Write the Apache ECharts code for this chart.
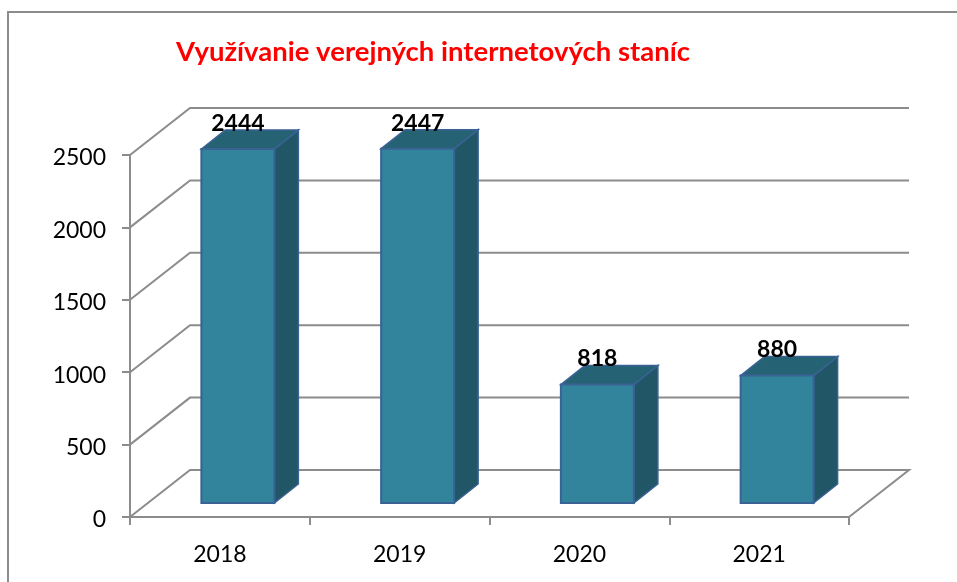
<!DOCTYPE html>
<html>
<head>
<meta charset="utf-8">
<title>Využívanie verejných internetových staníc</title>
<script src="https://cdn.jsdelivr.net/npm/echarts@6/dist/echarts.min.js"></script>
<style>
  html, body { margin: 0; padding: 0; background: #fff; }
  #chart { width: 957px; height: 582px; }
</style>
</head>
<body>
<div id="chart"></div>
<script>
const years = ['2018', '2019', '2020', '2021'];
const visits = [2444, 2447, 818, 880];
const yTicks = [0, 500, 1000, 1500, 2000, 2500];

// oblique offsets of the fake 3D box
const WALL_DX = 60, WALL_DY = -47;
const BAR_DX = 24, BAR_DY = -19;
const BAR_SHIFT_X = 18, BAR_SHIFT_Y = -14;
const BAR_WIDTH = 73;

const chart = echarts.init(document.getElementById('chart'));

// floor edge and back wall lines
const renderWall = (params, api) => {
  const rect = params.coordSys;
  const p = api.coord([0, api.value(1)]);
  const left = rect.x, right = rect.x + rect.width, y = p[1];
  const style = { stroke: '#8c8c8c', lineWidth: 2, fill: null };
  const points = [[left, y], [left + WALL_DX, y + WALL_DY], [right + WALL_DX, y + WALL_DY]];
  if (api.value(1) === 0) points.push([right, y]);
  return { type: 'polyline', shape: { points }, style };
};

const renderBar = (params, api) => {
  const base = api.coord([api.value(0), 0]);
  const top = api.coord([api.value(0), api.value(1)]);
  const x0 = base[0] + BAR_SHIFT_X - BAR_WIDTH / 2;
  const x1 = x0 + BAR_WIDTH;
  const yb = base[1] + BAR_SHIFT_Y;
  const yt = top[1] + BAR_SHIFT_Y;
  const edge = '#3a6294';
  return {
    type: 'group',
    children: [
      {
        type: 'polygon',
        shape: { points: [[x1, yt], [x1 + BAR_DX, yt + BAR_DY], [x1 + BAR_DX, yb + BAR_DY], [x1, yb]] },
        style: { fill: '#205665', stroke: edge, lineWidth: 1.5 }
      },
      {
        type: 'polygon',
        shape: { points: [[x0, yt], [x0 + BAR_DX, yt + BAR_DY], [x1 + BAR_DX, yt + BAR_DY], [x1, yt]] },
        style: { fill: '#256273', stroke: edge, lineWidth: 1.5 }
      },
      {
        type: 'rect',
        shape: { x: x0, y: yt, width: BAR_WIDTH, height: yb - yt },
        style: { fill: '#31849b', stroke: edge, lineWidth: 2 }
      },
      {
        type: 'text',
        z2: 10,
        style: {
          text: String(api.value(1)),
          x: (x0 + x1) / 2,
          y: yt + BAR_DY + 5,
          align: 'center',
          verticalAlign: 'bottom',
          fontFamily: 'Lato',
          fontWeight: 'bold',
          fontSize: 23,
          fill: '#000'
        }
      }
    ]
  };
};

chart.setOption({
  animation: false,
  backgroundColor: '#fff',
  title: {
    text: 'Využívanie verejných internetových staníc',
    left: 171,
    top: 33,
    textStyle: { color: '#ff0000', fontFamily: 'Lato', fontWeight: 'bold', fontSize: 27.5 }
  },
  graphic: [{
    type: 'polyline',
    shape: { points: [[8, 582], [8, 12], [957, 12]] },
    style: { stroke: '#8c8c8c', lineWidth: 2, fill: null }
  }],
  grid: { left: 130, right: 108, top: 155, bottom: 65 },
  xAxis: {
    type: 'category',
    data: years,
    axisLine: { lineStyle: { color: '#8c8c8c', width: 2 } },
    axisTick: { show: true, length: 8, lineStyle: { color: '#8c8c8c', width: 2 } },
    axisLabel: { color: '#000', fontFamily: 'Lato', fontSize: 23, margin: 26 }
  },
  yAxis: {
    type: 'value',
    min: 0,
    max: 2500,
    interval: 500,
    splitLine: { show: false },
    axisLine: { show: true, lineStyle: { color: '#8c8c8c', width: 2 } },
    axisTick: { show: true, length: 8, lineStyle: { color: '#8c8c8c', width: 2 } },
    axisLabel: {
      color: '#000',
      fontFamily: 'Lato',
      fontSize: 23,
      margin: 24,
      verticalAlign: 'top',
      lineHeight: 6,
      formatter: v => String(v)
    }
  },
  series: [
    {
      type: 'custom',
      name: 'wall',
      clip: false,
      z: 1,
      renderItem: renderWall,
      data: yTicks.map(v => [0, v]),
      encode: { x: 0, y: 1 },
      silent: true
    },
    {
      type: 'custom',
      name: 'Využívanie',
      clip: false,
      z: 3,
      renderItem: renderBar,
      data: visits.map((v, i) => [i, v]),
      encode: { x: 0, y: 1 }
    }
  ]
});
</script>
</body>
</html>
